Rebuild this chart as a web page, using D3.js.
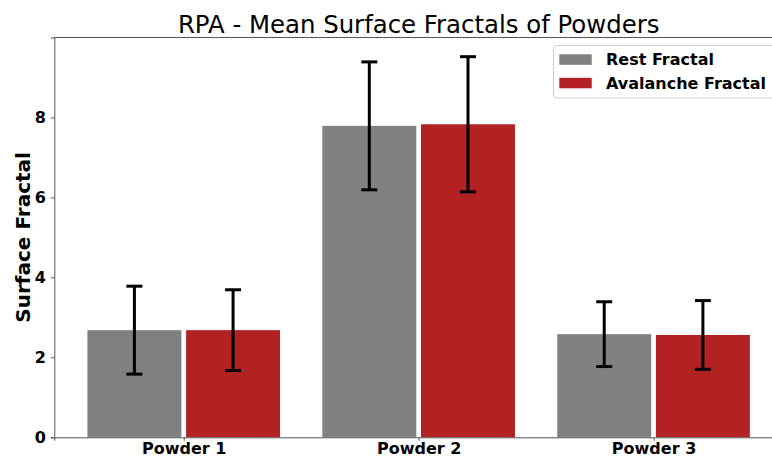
<!DOCTYPE html>
<html>
<head>
<meta charset="utf-8">
<script src="https://cdn.jsdelivr.net/npm/d3@7"></script>
<style>
  html, body { margin: 0; padding: 0; background: #fff; }
  svg { display: block; }
  text { font-family: "DejaVu Sans", sans-serif; }
</style>
</head>
<body>
<svg id="chart" width="772" height="457"></svg>
<script>
const categories = ["Powder 1", "Powder 2", "Powder 3"];
const seriesNames = ["Rest Fractal", "Avalanche Fractal"];
const restMeans = [2.68, 7.79, 2.58];
const restErrors = [1.10, 1.60, 0.81];
const avalancheMeans = [2.68, 7.83, 2.56];
const avalancheErrors = [1.01, 1.69, 0.86];
const yTicks = [0, 2, 4, 6, 8];
const colors = ["#808080", "#b22222"];

const svg = d3.select("#chart");
const mLeft = 54.3, mRight = 783, mTop = 37.5, mBottom = 437.3;

const x = d3.scalePoint().domain(categories).range([mLeft, mRight]).padding(0.551);
const y = d3.scaleLinear().domain([0, 10]).range([mBottom, mTop]);
const step = x.step();
const barW = 0.4 * step;
const offsets = [-0.21 * step, 0.21 * step];

const series = [
  { name: seriesNames[0], means: restMeans, errs: restErrors, color: colors[0] },
  { name: seriesNames[1], means: avalancheMeans, errs: avalancheErrors, color: colors[1] }
];

// bars
series.forEach((s, si) => {
  const g = svg.append("g");
  g.selectAll("rect").data(categories).join("rect")
    .attr("x", (c) => x(c) + offsets[si] - barW / 2)
    .attr("width", barW)
    .attr("y", (c, i) => y(s.means[i]))
    .attr("height", (c, i) => y(0) - y(s.means[i]))
    .attr("fill", s.color);
});

// error bars
series.forEach((s, si) => {
  const g = svg.append("g").attr("stroke", "#000").attr("stroke-width", 3);
  categories.forEach((c, i) => {
    const cx = x(c) + offsets[si];
    const hi = y(s.means[i] + s.errs[i]);
    const lo = y(s.means[i] - s.errs[i]);
    g.append("line").attr("x1", cx).attr("x2", cx).attr("y1", hi).attr("y2", lo);
    g.append("line").attr("x1", cx - 8).attr("x2", cx + 8).attr("y1", hi).attr("y2", hi);
    g.append("line").attr("x1", cx - 8).attr("x2", cx + 8).attr("y1", lo).attr("y2", lo);
  });
});

// axes
const yAxis = svg.append("g").attr("transform", `translate(${mLeft},0)`)
  .call(d3.axisLeft(y).tickValues(yTicks).tickSize(3.5).tickPadding(5).tickFormat(d3.format("d")));
const xAxis = svg.append("g").attr("transform", `translate(0,${mBottom})`)
  .call(d3.axisBottom(x).tickSize(3.5).tickPadding(2));
[yAxis, xAxis].forEach(a => {
  a.select(".domain").attr("stroke", "#555").attr("stroke-width", 1);
  a.selectAll(".tick line").attr("stroke", "#555");
  a.selectAll(".tick text").attr("fill", "#000").style("font-size", "16px")
    .style("font-weight", "bold").style("font-family", "DejaVu Sans");
});
// top / right spines
svg.append("line").attr("x1", mLeft).attr("x2", mRight).attr("y1", mTop).attr("y2", mTop)
  .attr("stroke", "#555").attr("stroke-width", 1);
svg.append("line").attr("x1", mRight).attr("x2", mRight).attr("y1", mTop).attr("y2", mBottom)
  .attr("stroke", "#555").attr("stroke-width", 1);

// title
svg.append("text").attr("x", (mLeft + mRight) / 2).attr("y", 33)
  .attr("text-anchor", "middle").style("font-size", "24.4px").attr("fill", "#000")
  .text("RPA - Mean Surface Fractals of Powders");

// y label
svg.append("text").attr("transform", `translate(30,${(mTop + mBottom) / 2}) rotate(-90)`)
  .attr("text-anchor", "middle").style("font-size", "20px").style("font-weight", "bold")
  .text("Surface Fractal");

// legend
const lg = svg.append("g");
lg.append("rect").attr("x", 553.5).attr("y", 45.5).attr("width", 260).attr("height", 52.5)
  .attr("rx", 3).attr("fill", "#fff").attr("fill-opacity", 0.8)
  .attr("stroke", "#ccc").attr("stroke-width", 1);
series.forEach((s, i) => {
  const yy = 54.3 + i * 23.5;
  lg.append("rect").attr("x", 559.3).attr("y", yy).attr("width", 32.4).attr("height", 10.5)
    .attr("fill", s.color);
  lg.append("text").attr("x", 606).attr("y", yy + 11).style("font-size", "16px")
    .style("font-weight", "bold").text(s.name);
});
</script>
</body>
</html>
